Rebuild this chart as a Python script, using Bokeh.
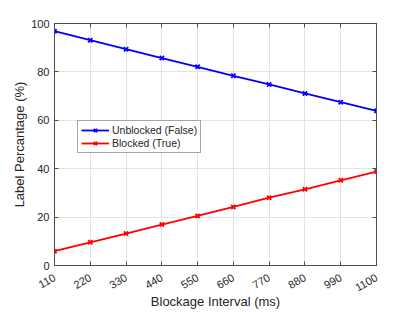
import math
from bokeh.plotting import figure
from bokeh.models import FixedTicker, LinearAxis, Range1d, Legend, LegendItem, CustomJSTickFormatter
from bokeh.embed import file_html
from bokeh.resources import INLINE

intervals = [110, 220, 330, 440, 550, 660, 770, 880, 990, 1100]
unblocked = [96.8, 93.1, 89.4, 85.7, 82.1, 78.4, 74.8, 71.1, 67.5, 63.9]
blocked = [5.9, 9.6, 13.2, 16.9, 20.5, 24.2, 28.0, 31.5, 35.2, 38.8]
y_ticks = [0, 20, 40, 60, 80, 100]

FONT = "Liberation Sans"
TXT = "#262626"
AX = "#4d4d4d"

p = figure(width=406, height=312, output_backend="svg", toolbar_location=None,
           x_range=Range1d(110, 1100), y_range=Range1d(0, 100),
           frame_width=322, frame_height=242,
           min_border_left=54, min_border_top=23, min_border_right=30, min_border_bottom=40)
p.outline_line_color = AX
p.outline_line_width = 1

for ax in (p.xaxis[0], p.yaxis[0]):
    ax.major_tick_in = 4
    ax.major_tick_out = 0
    ax.minor_tick_in = 0
    ax.minor_tick_out = 0
    ax.axis_line_color = AX
    ax.major_tick_line_color = AX
    ax.major_label_text_font = FONT
    ax.major_label_text_font_size = "11px"
    ax.major_label_text_color = TXT
    ax.axis_label_text_font = FONT
    ax.axis_label_text_font_size = "13px"
    ax.axis_label_text_font_style = "normal"
    ax.axis_label_text_color = TXT

p.xaxis[0].ticker = FixedTicker(ticks=intervals)
p.yaxis[0].ticker = FixedTicker(ticks=y_ticks)
p.xaxis[0].major_label_orientation = math.pi / 6
p.xaxis[0].axis_label = "Blockage Interval (ms)"
p.yaxis[0].axis_label = "Label Percantage (%)"
p.xaxis[0].major_label_standoff = 11
p.yaxis[0].major_label_standoff = 5
p.xaxis[0].axis_label_standoff = -4
p.yaxis[0].axis_label_standoff = 1

blank = CustomJSTickFormatter(code="return ''")
right = LinearAxis(ticker=FixedTicker(ticks=y_ticks), formatter=blank,
                   major_tick_in=4, major_tick_out=0, minor_tick_in=0, minor_tick_out=0,
                   major_label_standoff=0,
                   axis_line_color=AX, major_tick_line_color=AX)
top = LinearAxis(ticker=FixedTicker(ticks=intervals), formatter=blank,
                 major_tick_in=4, major_tick_out=0, minor_tick_in=0, minor_tick_out=0,
                 major_label_standoff=0,
                 axis_line_color=AX, major_tick_line_color=AX)
p.add_layout(right, "right")
p.add_layout(top, "above")

p.xgrid.ticker = FixedTicker(ticks=intervals)
p.ygrid.ticker = FixedTicker(ticks=y_ticks)
for g in (p.xgrid[0], p.ygrid[0]):
    g.grid_line_color = "#e3e3e3"
    g.grid_line_width = 1

l1 = p.line(intervals, unblocked, line_color="#0000ff", line_width=1.8)
m1 = p.scatter(intervals, unblocked, marker="x", size=6, line_color="#0000ff", line_width=1.8)
l2 = p.line(intervals, blocked, line_color="#ff0000", line_width=1.8)
m2 = p.scatter(intervals, blocked, marker="x", size=6, line_color="#ff0000", line_width=1.8)

legend = Legend(items=[LegendItem(label="Unblocked (False)", renderers=[l1, m1]),
                       LegendItem(label="Blocked (True)", renderers=[l2, m2])],
                location=(23, 112), label_text_font=FONT, label_text_font_size="10.5px",
                label_text_color=TXT, glyph_width=28, glyph_height=12, label_height=12,
                spacing=1, padding=3, margin=0, label_standoff=3,
                border_line_color=AX, border_line_width=1, background_fill_alpha=1)
p.add_layout(legend, "center")

open("out.html", "w").write(file_html(p, INLINE))
